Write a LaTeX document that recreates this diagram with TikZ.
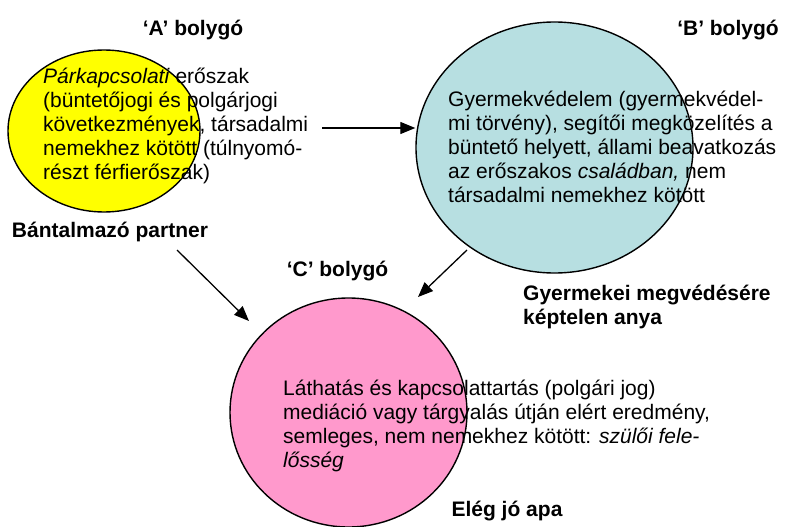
\documentclass[tikz,border=0pt]{standalone}
\usepackage{fontspec}
\setmainfont{Liberation Sans}
\usetikzlibrary{shapes.geometric,arrows.meta}
\definecolor{planetA}{HTML}{FFFF00}
\definecolor{planetB}{HTML}{B7DFE1}
\definecolor{planetC}{HTML}{FF99CC}
\begin{document}
\begin{tikzpicture}[x=1pt,y=-1pt,
  planet/.style={ellipse,draw=black,line width=1.4pt,inner sep=0pt},
  bodytext/.style={anchor=north west,inner sep=0pt,align=left,font=\fontsize{21}{24}\selectfont},
  label/.style={inner sep=0pt,font=\fontsize{21}{24}\selectfont\bfseries},
  conn/.style={line width=1.3pt,-{Triangle[length=15pt,width=12pt]}}]
\useasboundingbox (0,0) rectangle (787,527);
% planets
\node[planet,fill=planetA,minimum width=192pt,minimum height=162pt] (A) at (104,131) {};
\node[planet,fill=planetB,minimum width=277pt,minimum height=251pt] (B) at (554.5,147.5) {};
\node[planet,fill=planetC,minimum width=237pt,minimum height=229pt] (C) at (348.5,412.5) {};
% texts
\node[bodytext] (tA) at (43,66.2) {\strut\textit{Párkapcsolati} erőszak\\(büntetőjogi és polgárjogi\\következmények, társadalmi\\nemekhez kötött (túlnyomó-\\részt férfierőszak)};
\node[bodytext] (tB) at (448,89.2) {\strut Gyermekvédelem (gyermekvédel-\\mi törvény), segítői megközelítés a\\büntető helyett, állami beavatkozás\\az erőszakos \textit{családban,} nem\\társadalmi nemekhez kötött};
\node[bodytext] (tC) at (283,378.2) {\strut Láthatás és kapcsolattartás (polgári jog)\\mediáció vagy tárgyalás útján elért eredmény,\\semleges, nem nemekhez kötött: \textit{szülői fele-}\\\textit{lősség}};
% labels
\node[label,anchor=base] (lA) at (193,36) {‘A’ bolygó};
\node[label,anchor=base] (lB) at (728,36) {‘B’ bolygó};
\node[label,anchor=base] (lC) at (337.5,276) {‘C’ bolygó};
\node[label,anchor=base] (pA) at (110,237) {Bántalmazó partner};
\node[label,anchor=north west,align=left] (pB) at (523,283.2) {\strut Gyermekei megvédésére\\képtelen anya};
\node[label,anchor=base] (pC) at (507,516) {Elég jó apa};
% connectors
\coordinate (s1) at (322,128);
\coordinate (s2) at (177,250);
\coordinate (e2) at (249,321);
\coordinate (s3) at (467,250);
\coordinate (e3) at (418,297);
\draw[conn] (s1) -- (s1 -| B.west);
\draw[conn] (s2) -- (e2);
\draw[conn] (s3) -- (e3);
\end{tikzpicture}
\end{document}
